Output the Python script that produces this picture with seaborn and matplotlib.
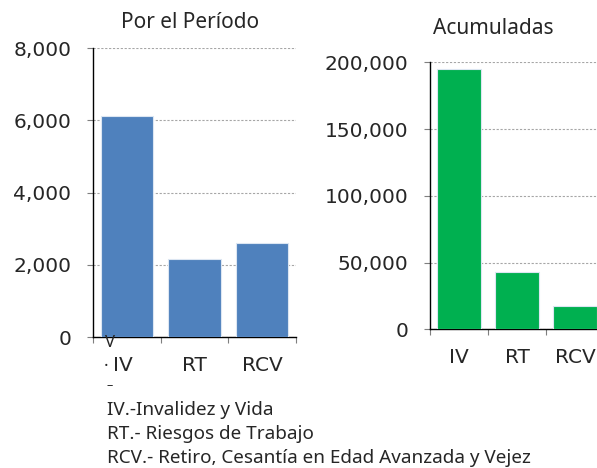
import matplotlib
matplotlib.use("Agg")
import matplotlib.pyplot as plt
import matplotlib.ticker as mticker
import matplotlib.transforms as mtrans
import pandas as pd
import seaborn as sns

# ── Data ─────────────────────────────────────────────────────────────────────
categorias = ["IV", "RT", "RCV"]
periodo = [6120, 2150, 2590]
acumuladas = [195200, 42900, 17450]
notas = [
    "IV.-Invalidez y Vida",
    "RT.- Riesgos de Trabajo",
    "RCV.- Retiro, Cesantía en Edad Avanzada y Vejez",
]

sns.set_theme(style="white")
plt.rcParams["font.family"] = ["Noto Sans", "DejaVu Sans"]

df_per = pd.DataFrame({"cat": categorias, "val": periodo})
df_acu = pd.DataFrame({"cat": categorias, "val": acumuladas})

fig = plt.figure(figsize=(5.97, 4.68), dpi=100)
ax1 = fig.add_axes([0.1558, 0.2799, 0.340, 0.6175])
ax2 = fig.add_axes([0.7203, 0.2964, 0.2915, 0.5705])


def style(ax, df, color, top, step, title, tx, ty):
    sns.barplot(data=df, x="cat", y="val", color=color, width=0.77,
                edgecolor="#dce6f2", linewidth=0.8, saturation=1, ax=ax, zorder=3)
    ax.set_xlim(-0.5, 2.5)
    ax.set_ylim(0, top)
    ax.yaxis.set_major_locator(mticker.MultipleLocator(step))
    ax.yaxis.set_major_formatter(mticker.FuncFormatter(lambda v, _: f"{v:,.0f}"))
    ax.grid(axis="y", color="#a6a6a6", linestyle=(0, (2, 1.5)), linewidth=0.8, zorder=0)
    for s in ["top", "right"]:
        ax.spines[s].set_visible(False)
    for s in ["left", "bottom"]:
        ax.spines[s].set_color("black")
        ax.spines[s].set_linewidth(1.0)
    ax.set_xlabel("")
    ax.set_ylabel("")
    ax.tick_params(axis="y", left=True, length=4.5, width=0.8, color="#7f7f7f",
                   labelsize=14.5, pad=11)
    ax.xaxis.set_minor_locator(mticker.FixedLocator([-0.5, 0.5, 1.5, 2.5]))
    ax.tick_params(axis="x", which="minor", bottom=True, length=4.5, width=0.8, color="#7f7f7f")
    ax.tick_params(axis="x", which="major", bottom=False, length=0, labelsize=14.5, pad=13.5)
    for lab in ax.get_xticklabels() + ax.get_yticklabels():
        lab.set_fontfamily("DejaVu Sans")
    ax.text(tx, ty, title, transform=ax.transAxes, fontsize=15, ha="center", va="center")


style(ax1, df_per, "#4f81bd", 8000, 2000, "Por el Período", 0.478, 1.087)
style(ax2, df_acu, "#00b050", 200000, 50000, "Acumuladas", 0.362, 1.127)

# la etiqueta IV del primer panel va corrida a la izquierda
shift = mtrans.ScaledTranslation(-3.5 / 100, 0, fig.dpi_scale_trans)
lab_iv = ax1.get_xticklabels()[0]
lab_iv.set_transform(lab_iv.get_transform() + shift)

# artefactos de texto del original
fig.text(110 / 597, 1 - 343 / 468, "V", fontsize=12, ha="center", va="center")
fig.text(106 / 597, 1 - 367 / 468, "·", fontsize=12, ha="center", va="center")
fig.text(109.5 / 597, 1 - 386 / 468, "–", fontsize=9, ha="center", va="center")

for i, t in enumerate(notas):
    fig.text(107 / 597, 1 - (410 + 24 * i) / 468, t, fontsize=13.6, ha="left", va="center")

plt.savefig("out.png", dpi=100)
